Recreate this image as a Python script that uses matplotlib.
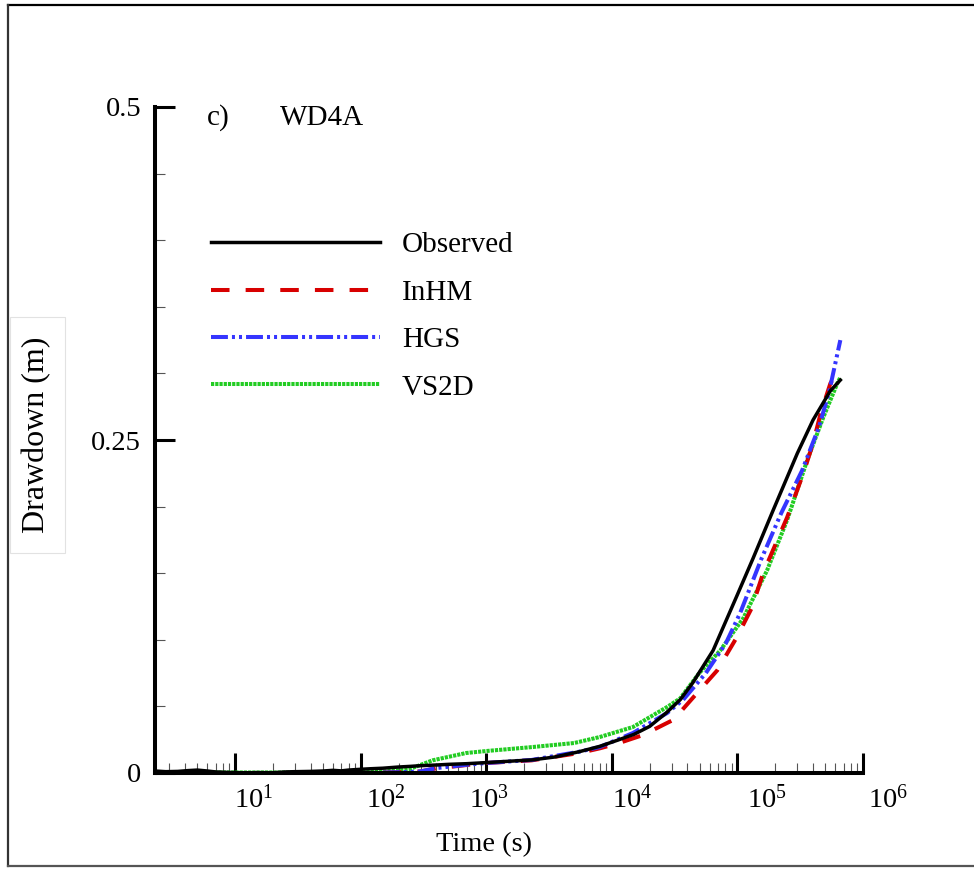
import numpy as np
import matplotlib
matplotlib.use("Agg")
import matplotlib.pyplot as plt
from matplotlib.lines import Line2D
from matplotlib.patches import Rectangle
from matplotlib.transforms import ScaledTranslation
from matplotlib.ticker import LogLocator, MultipleLocator, NullFormatter, FixedLocator

plt.rcParams['font.family'] = ['Liberation Serif', 'DejaVu Serif']
plt.rcParams['mathtext.fontset'] = 'custom'
plt.rcParams['mathtext.rm'] = 'Liberation Serif'
plt.rcParams['mathtext.it'] = 'Liberation Serif:italic'

# ---- data: time (s) and drawdown (m) ----
obs_t = [2.3, 2.8, 3.5, 4.2, 5, 6, 7, 8.5, 10, 12, 15, 20, 25, 30, 40, 50, 60, 70,
         80, 100, 120, 150, 200, 250, 300, 400, 500, 700, 1000, 1500, 2300, 3500,
         5500, 8000, 11000, 15000, 20000, 27000, 35000, 44000, 64000, 99000,
         133000, 192000, 300000, 400000, 550000, 660000]
obs_h = [0.0015, 0.0010, 0.0012, 0.0018, 0.0022, 0.0015, 0.0008, 0.0005, 0.0003,
         0.0001, 0.0003, 0.0002, 0.0008, 0.0010, 0.0012, 0.0015, 0.0020, 0.0016,
         0.0022, 0.0028, 0.0032, 0.0036, 0.0045, 0.0050, 0.0055, 0.0060, 0.0065,
         0.0070, 0.0078, 0.0088, 0.0098, 0.0120, 0.0160, 0.0200, 0.0245, 0.0290,
         0.0350, 0.0450, 0.0550, 0.0676, 0.0920, 0.1330, 0.1610, 0.1970, 0.2400,
         0.2650, 0.2870, 0.2950]

inhm_t = [150, 250, 300, 400, 700, 1000, 2300, 5500, 8000, 11000, 17700, 31000,
          47700, 69000, 99000, 131000, 160000, 249000, 335000, 400000, 460000,
          550000, 600000]
inhm_h = [0.0003, 0.0008, 0.0012, 0.0035, 0.0060, 0.0075, 0.0095, 0.0150, 0.0185,
          0.0220, 0.0285, 0.0400, 0.0600, 0.0770, 0.1020, 0.1245, 0.1500, 0.1920,
          0.2250, 0.2475, 0.2700, 0.2925, 0.2985]

hgs_t = [150, 250, 300, 400, 700, 1000, 2300, 5500, 8000, 14700, 27500, 37000,
         56000, 81000, 105000, 154000, 223000, 327000, 447000, 540000, 660000]
hgs_h = [0.0003, 0.0008, 0.0012, 0.0037, 0.0062, 0.0075, 0.0098, 0.0160, 0.0195,
         0.0300, 0.0450, 0.0550, 0.0750, 0.0975, 0.1200, 0.1600, 0.1950, 0.2270,
         0.2600, 0.2870, 0.3250]

vs2d_t = [2.3, 5, 10, 30, 100, 150, 246, 373, 690, 1000, 2340, 5000, 8000, 14700,
          27500, 35000, 49600, 73000, 111000, 172000, 249000, 360000, 483000,
          624000, 660000]
vs2d_h = [0.0005, 0.0005, 0.0004, 0.0004, 0.0005, 0.0010, 0.0030, 0.0095, 0.0150,
          0.0165, 0.0195, 0.0225, 0.0270, 0.0345, 0.0495, 0.0560, 0.0750, 0.0920,
          0.1160, 0.1520, 0.1900, 0.2350, 0.2670, 0.2925, 0.2970]

labels = ["Observed", "InHM", "HGS", "VS2D"]
x_ticks = [1e1, 1e2, 1e3, 1e4, 1e5, 1e6]
x_ticklabels = [r"$10^{1}$", r"$10^{2}$", r"$10^{3}$", r"$10^{4}$", r"$10^{5}$", r"$10^{6}$"]
y_ticks = [0, 0.25, 0.5]
y_ticklabels = ["0", "0.25", "0.5"]

W, H = 974, 869
fig = plt.figure(figsize=(W / 100, H / 100), dpi=100)
ax = fig.add_axes([155 / W, 1 - 773 / H, (863 - 155) / W, (773 - 107) / H])


def fx(px):
    return px / W


def fy(py):
    return 1 - py / H


ax.plot(obs_t, obs_h, color='black', lw=2.5, label=labels[0], zorder=5)
ax.plot(inhm_t, inhm_h, color='#d80000', lw=2.9, dashes=(4.6, 4.0), label=labels[1], zorder=3)
ax.plot(hgs_t, hgs_h, color='#3535ff', lw=2.9, dashes=(4.2, 1.0, 0.75, 1.0, 0.75, 1.0),
        label=labels[2], zorder=4)
ax.plot(vs2d_t, vs2d_h, color='#22cc22', lw=2.9, dashes=(0.8, 0.25), label=labels[3], zorder=2)

ax.set_xscale('log')
ax.set_xlim(2.3, 1e6)
ax.set_ylim(0, 0.5)

for s in ('top', 'right'):
    ax.spines[s].set_visible(False)
for s in ('left', 'bottom'):
    ax.spines[s].set_linewidth(2.9)
    ax.spines[s].set_zorder(6)

ax.xaxis.set_major_locator(FixedLocator(x_ticks))
ax.set_xticklabels(x_ticklabels)
ax.xaxis.set_minor_locator(LogLocator(base=10, subs=np.arange(2, 10)))
ax.xaxis.set_minor_formatter(NullFormatter())
ax.set_yticks(y_ticks)
ax.set_yticklabels(y_ticklabels)
ax.yaxis.set_minor_locator(MultipleLocator(0.05))

ax.tick_params(axis='both', which='major', direction='in', length=14.5, width=2.2,
               labelsize=20.5, color='black')
ax.tick_params(axis='both', which='minor', direction='in', length=7.5, width=0.8,
               color='#555555')
ax.tick_params(axis='x', which='major', pad=9)
ax.tick_params(axis='y', which='major', pad=10)

# decade labels sit just right of their ticks (offsets in pixels)
label_shift_px = [19, 25, 3, 20, 29, 25]
for tick, dx in zip(ax.xaxis.get_major_ticks(), label_shift_px):
    lab = tick.label1
    lab.set_transform(lab.get_transform() + ScaledTranslation(dx / 100, 0, fig.dpi_scale_trans))

fig.text(fx(484), fy(845), "Time (s)", fontsize=20.5, ha='center', va='center')

leg = ax.legend(loc='upper left', bbox_to_anchor=(fx(211), fy(232)),
                bbox_transform=fig.transFigure, frameon=False, fontsize=21,
                handlelength=5.8, handletextpad=0.75, labelspacing=0.72,
                borderpad=0, borderaxespad=0)

fig.text(fx(207), fy(118), "c)", fontsize=21, va='center', ha='left')
fig.text(fx(280), fy(118), "WD4A", fontsize=21, va='center', ha='left')

# y-axis title with its light box
fig.add_artist(Rectangle((fx(10), fy(553)), fx(65) - fx(10), fy(317) - fy(553),
                         transform=fig.transFigure, fc='white', ec='#e2e2e2', lw=0.8))
fig.text(fx(37), fy(435), "Drawdown (m)", rotation=90, fontsize=23,
         ha='center', va='center')

# outer frame
fig.add_artist(Line2D([fx(8), 1.0], [fy(5), fy(5)], transform=fig.transFigure,
                      color='black', lw=1.6))
fig.add_artist(Line2D([fx(8), fx(8)], [fy(5), fy(866)], transform=fig.transFigure,
                      color='#333333', lw=1.6))
fig.add_artist(Line2D([fx(8), 1.0], [fy(866), fy(866)], transform=fig.transFigure,
                      color='#555555', lw=1.6))

fig.savefig("out.png", dpi=100)
